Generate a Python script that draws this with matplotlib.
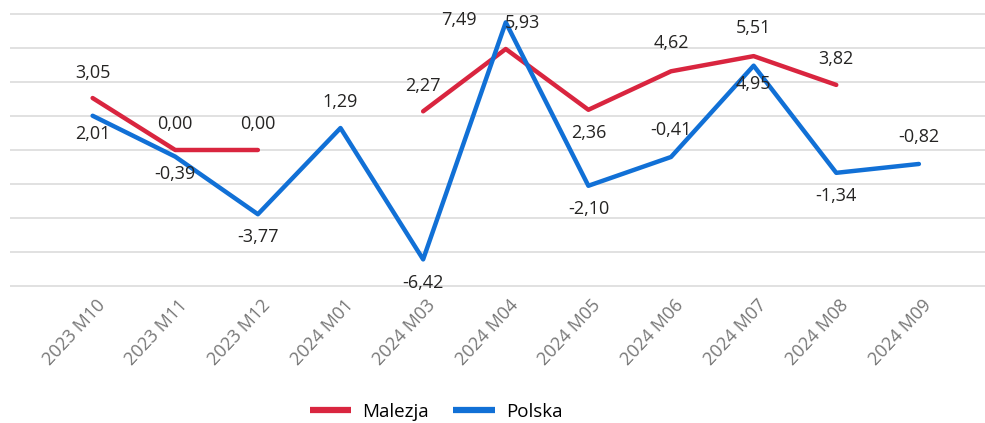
import matplotlib.pyplot as plt
import matplotlib.transforms as mtransforms
import numpy as np

# ============================================================
# DATA
# ============================================================

months = [
    "2023 M10", "2023 M11", "2023 M12", "2024 M01", "2024 M03", "2024 M04",
    "2024 M05", "2024 M06", "2024 M07", "2024 M08", "2024 M09",
]

malezja = [3.05, 0.00, 0.00, None, 2.27, 5.93, 2.36, 4.62, 5.51, 3.82, None]
polska = [2.01, -0.39, -3.77, 1.29, -6.42, 7.49, -2.10, -0.41, 4.95, -1.34, -0.82]

# label offsets in pixels (dx, dy) relative to each point
malezja_offsets = [(0, 25), (0, 26), (0, 26), None, (0, 25), (17, 26),
                   (0, -23), (0, 28), (0, 28), (0, 26), None]
polska_offsets = [(0, -18), (0, -17), (0, -23), (0, 26), (0, -24), (-47, 2),
                  (0, -23), (0, 27), (0, -18), (0, -23), (0, 27)]

RED = "#D9253F"
BLUE = "#1170D6"
TEXT = "#252423"
GREY = "#777777"
FONT = "Open Sans"

plt.rcParams["font.family"] = [FONT, "DejaVu Sans"]


def fmt(v):
    return f"{v:.2f}".replace(".", ",")


def to_arr(vals):
    return np.array([np.nan if v is None else v for v in vals], dtype=float)


# ============================================================
# PLOT
# ============================================================

fig = plt.figure(figsize=(9.85, 4.23), dpi=100)
ax = fig.add_axes([10 / 985, (423 - 288) / 423, 975 / 985, 276 / 423])

x = np.arange(len(months))

ax.plot(x, to_arr(malezja), color=RED, lw=3.2, solid_capstyle="round",
        label="Malezja", zorder=3)
ax.plot(x, to_arr(polska), color=BLUE, lw=3.2, solid_capstyle="round",
        label="Polska", zorder=3)

for series, offsets in [(malezja, malezja_offsets), (polska, polska_offsets)]:
    for i, v in enumerate(series):
        if v is None:
            continue
        ax.annotate(
            fmt(v), (i, v),
            xytext=offsets[i], textcoords="offset pixels",
            ha="center", va="center",
            fontsize=13, color=TEXT, zorder=4
        )

ax.set_xlim(-1.0, 10.8)
ax.set_ylim(-8.1, 8.1)
ax.set_yticks(np.arange(-8, 9, 2))
ax.yaxis.grid(True, color="#E1E1E1", lw=1.4)
ax.set_axisbelow(True)
ax.tick_params(axis="y", left=False, labelleft=False)
ax.tick_params(axis="x", length=0, pad=6)

for s in ax.spines.values():
    s.set_visible(False)

ax.set_xticks(x)
ax.set_xticklabels(months, rotation=47, ha="right", va="top",
                   rotation_mode="anchor", fontsize=13, color=GREY)
shift = mtransforms.ScaledTranslation(3 / 100, 0, fig.dpi_scale_trans)
for lbl in ax.get_xticklabels():
    lbl.set_transform(lbl.get_transform() + shift)

leg = fig.legend(
    loc="center", bbox_to_anchor=(436 / 985, 1 - 412 / 423),
    ncol=2, frameon=False, fontsize=13.5,
    handlelength=2.2, handletextpad=0.6, columnspacing=1.3
)
for h in leg.legend_handles:
    h.set_linewidth(4.5)
    h.set_solid_capstyle("butt")

fig.savefig("out.png", dpi=100)
